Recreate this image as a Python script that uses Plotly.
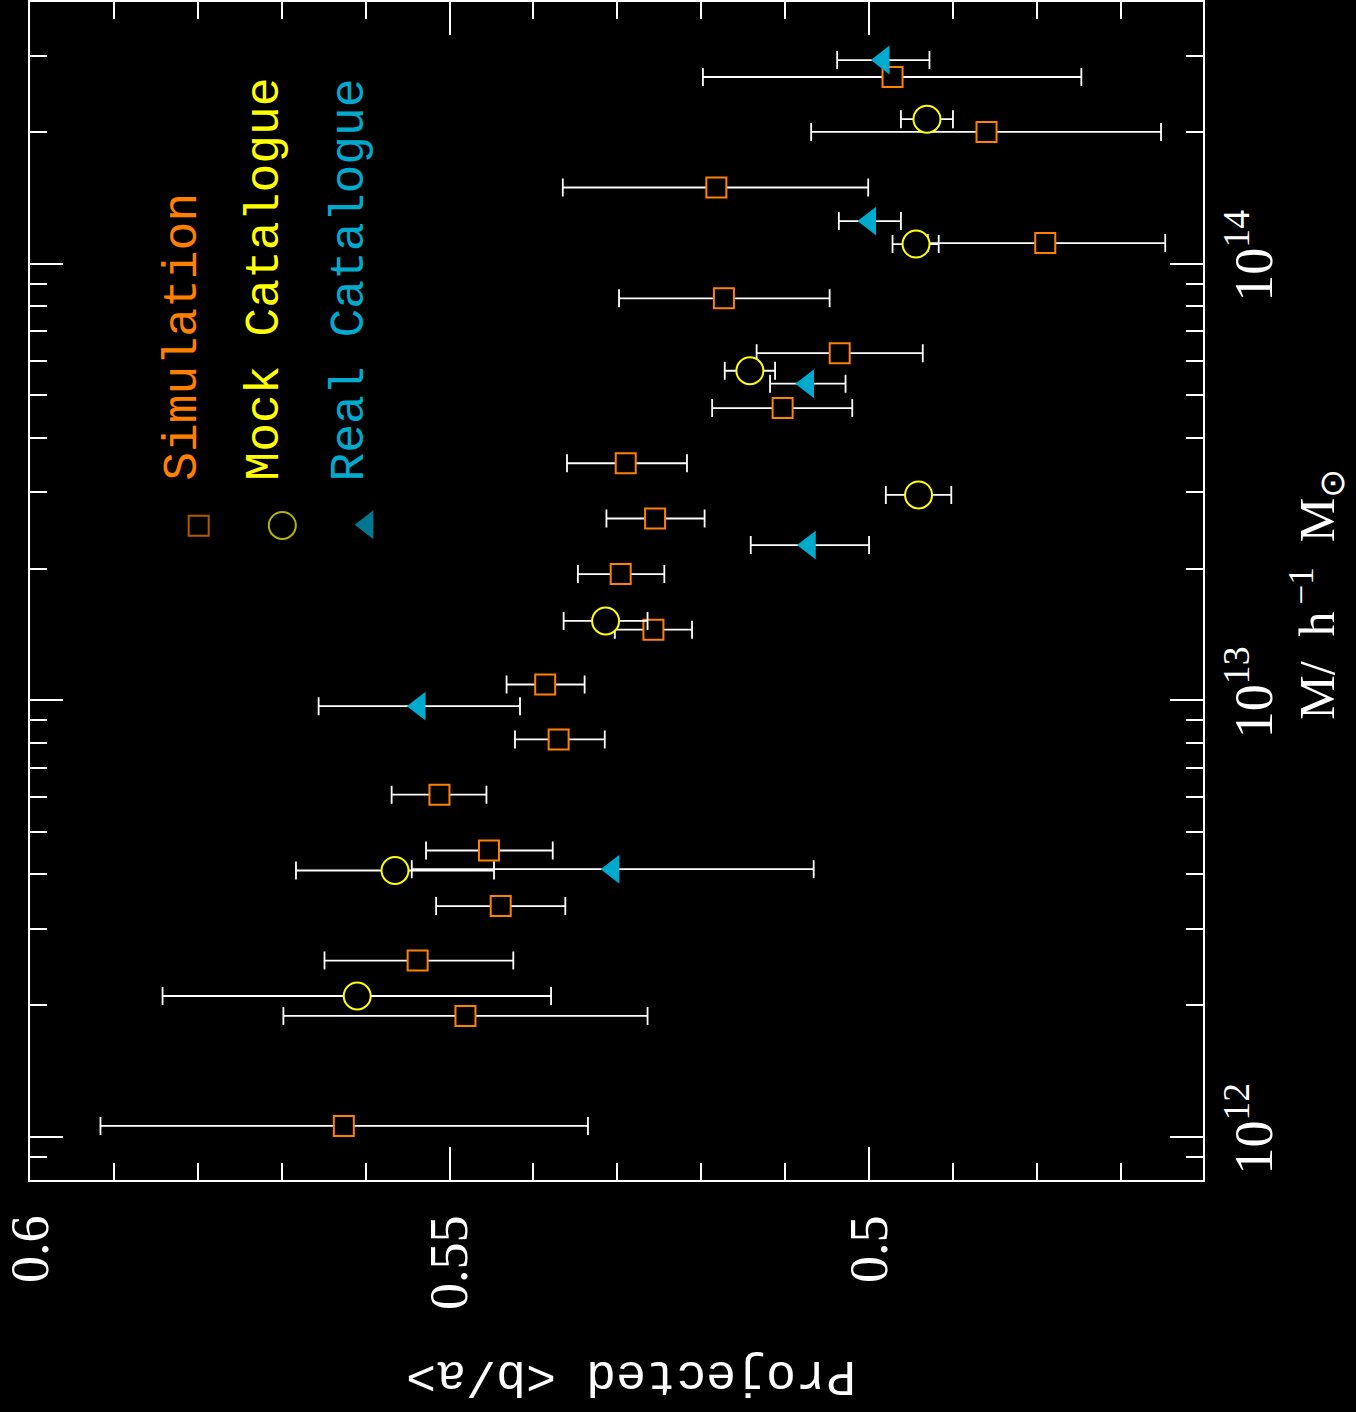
import plotly.graph_objects as go

# ---------------- data ----------------
# Simulation (orange squares)
sim_mass = [1.059e12, 1.892e12, 2.533e12, 3.378e12, 4.528e12, 6.08e12, 8.136e12,
            1.087e13, 1.452e13, 1.947e13, 2.61e13, 3.493e13, 4.673e13, 6.242e13,
            8.339e13, 1.116e14, 1.496e14, 2.006e14, 2.68e14]
sim_ba = [0.5626, 0.5481, 0.5538, 0.5439, 0.5453, 0.5512, 0.5370, 0.5386, 0.5257,
          0.5296, 0.5255, 0.5290, 0.5103, 0.5035, 0.5173, 0.4790, 0.5182, 0.4860, 0.4972]
sim_hi = [0.5916, 0.5698, 0.5649, 0.5516, 0.5528, 0.5569, 0.5422, 0.5432, 0.5303,
          0.5347, 0.5313, 0.5360, 0.5187, 0.5134, 0.5298, 0.4930, 0.5365, 0.5069, 0.5198]
sim_lo = [0.5335, 0.5264, 0.5424, 0.5362, 0.5377, 0.5456, 0.5315, 0.5339, 0.5211,
          0.5244, 0.5196, 0.5217, 0.5020, 0.4936, 0.5047, 0.4647, 0.5001, 0.4652, 0.4747]

# Mock Catalogue (yellow circles)
mock_mass = [2.102e12, 4.075e12, 1.52e13, 2.956e13, 5.69e13, 1.11e14, 2.145e14]
mock_ba = [0.5610, 0.5565, 0.5314, 0.4941, 0.5142, 0.4944, 0.4931]
mock_hi = [0.5842, 0.5683, 0.5364, 0.4980, 0.5172, 0.4972, 0.4962]
mock_lo = [0.5379, 0.5447, 0.5264, 0.4902, 0.5112, 0.4917, 0.4900]

# Real Catalogue (cyan triangles)
real_mass = [4.103e12, 9.698e12, 2.268e13, 5.314e13, 1.253e14, 2.931e14]
real_ba = [0.5305, 0.5536, 0.5071, 0.5073, 0.4999, 0.4983]
real_hi = [0.5545, 0.5656, 0.5141, 0.5118, 0.5036, 0.5038]
real_lo = [0.5066, 0.5416, 0.5000, 0.5028, 0.4962, 0.4928]

series_names = ["Simulation", "Mock Catalogue", "Real Catalogue"]

# axis ticks
ba_major = [0.6, 0.55, 0.5]
ba_major_text = ["0.6", "0.55", "0.5"]
ba_minor = [0.59, 0.58, 0.57, 0.56, 0.54, 0.53, 0.52, 0.51, 0.49, 0.48, 0.47]
mass_major = [1e12, 1e13, 1e14]
mass_major_text = ["10<sup>12</sup>", "10<sup>13</sup>", "10<sup>14</sup>"]
mass_minor = [9e11, 2e12, 3e12, 4e12, 5e12, 6e12, 7e12, 8e12, 9e12,
              2e13, 3e13, 4e13, 5e13, 6e13, 7e13, 8e13, 9e13, 2e14, 3e14]

# ---------------- style ----------------
ORANGE = "#FF8000"
YELLOW = "#FFFF00"
CYAN = "#00AACC"
WHITE = "#FFFFFF"
MONO = ("'Liberation Mono', 'Nimbus Mono PS', 'Nimbus Mono L', FreeMono, "
        "'Courier New', Courier, 'DejaVu Sans Mono', monospace")
SERIF = "'Liberation Serif', 'Times New Roman', serif"


def err(vals, hi, lo):
    return dict(type="data", symmetric=False,
                array=[h - v for v, h in zip(vals, hi)],
                arrayminus=[v - l for v, l in zip(vals, lo)],
                color=WHITE, thickness=1.8, width=9)


fig = go.Figure()
fig.add_trace(go.Scatter(
    x=sim_ba, y=sim_mass, mode="markers", name=series_names[0],
    error_x=err(sim_ba, sim_hi, sim_lo),
    marker=dict(symbol="square", size=20, color="black",
                line=dict(color=ORANGE, width=2))))
fig.add_trace(go.Scatter(
    x=mock_ba, y=mock_mass, mode="markers", name=series_names[1],
    error_x=err(mock_ba, mock_hi, mock_lo),
    marker=dict(symbol="circle", size=27, color="black",
                line=dict(color=YELLOW, width=2))))
fig.add_trace(go.Scatter(
    x=real_ba, y=real_mass, mode="markers", name=series_names[2],
    error_x=err(real_ba, real_hi, real_lo),
    marker=dict(symbol="triangle-left", size=25, color=CYAN,
                line=dict(width=0))))

# legend keys (in an overlay axis spanning the plot area, 0..1)
key_x = [0.1438, 0.2151, 0.2874]
key_y = [0.5553, 0.5557, 0.5562]
fig.add_trace(go.Scatter(
    x=key_x, y=key_y, xaxis="x2", yaxis="y2", mode="markers", showlegend=False,
    hoverinfo="skip",
    marker=dict(symbol=["square", "circle", "triangle-left"], size=[20, 27, 25],
                color=["black", "black", CYAN],
                line=dict(color=[ORANGE, YELLOW, CYAN], width=[2, 2, 0]))))

legend_text_x = [0.1302, 0.2004, 0.2728]
legend_colors = [ORANGE, YELLOW, CYAN]
annotations = []
for name, tx, col in zip(series_names, legend_text_x, legend_colors):
    annotations.append(dict(
        text=name, x=tx, y=0.5916, xref="paper", yref="paper",
        xanchor="center", yanchor="bottom", textangle=-90, showarrow=False,
        font=dict(family=MONO, size=48, color=col)))

annotations.append(dict(
    text="Projected &lt;b/a&gt;", x=0.5128, y=-0.1661, xref="paper", yref="paper",
    xanchor="center", yanchor="middle", textangle=180, showarrow=False,
    font=dict(family=MONO, size=50, color=WHITE)))
annotations.append(dict(
    text="M/\u2002h<sup>\u2009−1</sup>\u2002M<sub>⊙</sub>", x=1.0979, y=0.4975,
    xref="paper", yref="paper", xanchor="center", yanchor="middle",
    textangle=-90, showarrow=False,
    font=dict(family=SERIF, size=50, color=WHITE)))

tickfont = dict(family=SERIF, size=54, color=WHITE)

fig.update_layout(
    width=1356, height=1412,
    margin=dict(l=28, r=153, t=0, b=232),
    paper_bgcolor="black", plot_bgcolor="black",
    showlegend=False,
    annotations=annotations,
    xaxis=dict(
        range=[0.6, 0.4602], tickmode="array", tickvals=ba_major,
        ticktext=ba_major_text, tickangle=-90, tickfont=tickfont,
        ticks="inside", ticklen=33, tickwidth=2, tickcolor=WHITE,
        minor=dict(tickmode="array", tickvals=ba_minor, ticks="inside",
                   ticklen=17, tickwidth=2, tickcolor=WHITE, showgrid=False),
        showline=True, linecolor=WHITE, linewidth=2, mirror="allticks",
        showgrid=False, zeroline=False, ticklabelstandoff=12,
        ticklabeloverflow="allow"),
    yaxis=dict(
        type="log", range=[11.901, 14.6], side="right", tickmode="array",
        tickvals=mass_major, ticktext=mass_major_text, tickangle=-90,
        tickfont=tickfont, ticks="inside", ticklen=33, tickwidth=2,
        tickcolor=WHITE,
        minor=dict(tickmode="array", tickvals=mass_minor, ticks="inside",
                   ticklen=17, tickwidth=2, tickcolor=WHITE, showgrid=False),
        showline=True, linecolor=WHITE, linewidth=2, mirror="allticks",
        showgrid=False, zeroline=False, ticklabelstandoff=2,
        ticklabeloverflow="allow"),
    xaxis2=dict(overlaying="x", anchor="y2", range=[0, 1], visible=False),
    yaxis2=dict(overlaying="y", anchor="x2", range=[0, 1], visible=False),
)

fig.write_html("out.html")
